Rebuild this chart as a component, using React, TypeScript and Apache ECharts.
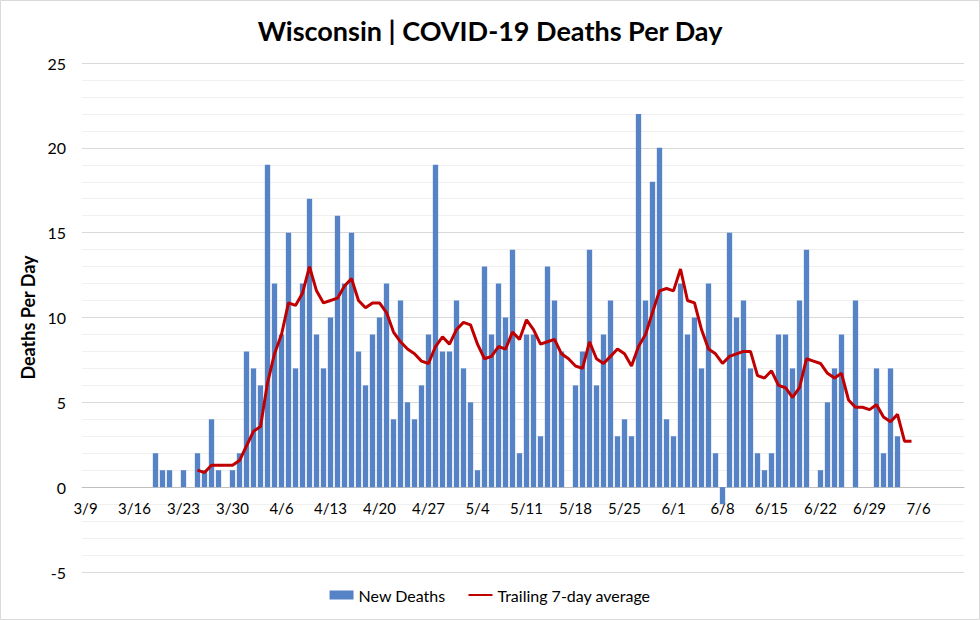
import React, { useEffect, useRef } from "react";
import * as echarts from "echarts";

// Calendar span of the date axis: [month, firstDay, lastDay]
const MONTH_SPANS: [number, number, number][] = [
  [3, 9, 31],
  [4, 1, 30],
  [5, 1, 31],
  [6, 1, 30],
  [7, 1, 12],
];

const CATEGORIES: string[] = [];
MONTH_SPANS.forEach(([m, a, b]) => {
  for (let d = a; d <= b; d++) CATEGORIES.push(`${m}/${d}`);
});

// New deaths per day, starting 3/19 (first reported day) through 7/3
const DEATHS_START = "3/19";
const NEW_DEATHS = [
  2, 1, 1, 0, 1, 0, 2, 1, 4, 1, 0, 1, 2, // 3/19 - 3/31
  8, 7, 6, 19, 12, 9, 15, 7, 12, 17, 9, 7, 10, 16, 12, 15, 8, 6, 9, 10, 12, 4, 11, 5, 4, 6, 9, 19, 8, 8, // April
  11, 7, 5, 1, 13, 9, 12, 10, 14, 2, 9, 9, 3, 13, 11, 8, 0, 6, 8, 14, 6, 9, 11, 3, 4, 3, 22, 11, 18, 20, 4, // May
  3, 12, 9, 10, 7, 12, 2, -1, 15, 10, 11, 7, 2, 1, 2, 9, 9, 7, 11, 14, 0, 1, 5, 7, 9, 0, 11, 0, 0, 7, // June
  2, 7, 3, // July 1-3
];

// Trailing 7-day average, starting 3/25 through 7/5
const AVG_START = "3/25";
const TRAILING_AVG = [
  1.0, 0.86, 1.29, 1.29, 1.29, 1.29, 1.57, // 3/25 - 3/31
  2.43, 3.29, 3.57, 6.14, 7.86, 9.0, 10.86, 10.71, 11.43, 13.0, 11.57, 10.86, 11.0, 11.14, 11.86,
  12.29, 11.0, 10.57, 10.86, 10.86, 10.29, 9.14, 8.57, 8.14, 7.86, 7.43, 7.29, 8.29, 8.86, 8.43, // April
  9.29, 9.71, 9.57, 8.43, 7.57, 7.71, 8.29, 8.14, 9.14, 8.71, 9.86, 9.29, 8.43, 8.57, 8.71, 7.86,
  7.57, 7.14, 7.0, 8.57, 7.57, 7.29, 7.71, 8.14, 7.86, 7.14, 8.29, 9.0, 10.29, 11.57, 11.71, // May
  11.57, 12.86, 11.0, 10.86, 9.29, 8.14, 7.86, 7.29, 7.71, 7.86, 8.0, 8.0, 6.57, 6.43, 6.86,
  6.0, 5.86, 5.29, 5.86, 7.57, 7.43, 7.29, 6.71, 6.43, 6.71, 5.14, 4.71, 4.71, 4.57, 4.86, // June
  4.14, 3.86, 4.29, 2.71, 2.71, // July 1-5
];

const Y_TICKS = { min: -5, max: 25, interval: 5 };

function alignTo(start: string, values: number[]): (number | null)[] {
  const offset = CATEGORIES.indexOf(start);
  return CATEGORIES.map((_, i) => {
    const k = i - offset;
    return k >= 0 && k < values.length ? values[k] : null;
  });
}

const W = 980;
const H = 620;

export default function App() {
  const ref = useRef<HTMLDivElement>(null);

  useEffect(() => {
    if (!ref.current) return;
    const chart = echarts.init(ref.current, undefined, { renderer: "svg" });
    const font = "Lato, 'Open Sans', sans-serif";
    const gridBox = { left: 82, right: 16, top: 63, bottom: 48 };
    const plotH = H - gridBox.top - gridBox.bottom;
    // lift the category axis from the grid bottom up to the value 0
    const zeroOffset = -plotH * (0 - Y_TICKS.min) / (Y_TICKS.max - Y_TICKS.min);
    const option: any = {
      animation: false,
      backgroundColor: "#ffffff",
      textStyle: { fontFamily: font },
      title: {
        text: "Wisconsin | COVID-19 Deaths Per Day",
        left: "center",
        top: 12,
        textStyle: { fontSize: 27, fontWeight: "bold", color: "#000", fontFamily: font },
      },
      graphic: [
        {
          type: "rect",
          shape: { x: 0.5, y: 0.5, width: W - 1, height: H - 1 },
          style: { fill: "none", stroke: "#d9d9d9", lineWidth: 1 },
          silent: true,
        },
      ],
      grid: [{ ...gridBox }, { ...gridBox }],
      legend: {
        bottom: 12,
        left: "center",
        itemWidth: 24,
        itemHeight: 9,
        itemGap: 22,
        textStyle: { fontSize: 16, color: "#000", fontFamily: font },
        data: [
          { name: "New Deaths", icon: "rect" },
          { name: "Trailing 7-day average", itemStyle: { opacity: 0 } },
        ],
      },
      xAxis: [
        {
          type: "category",
          gridIndex: 0,
          data: CATEGORIES,
          boundaryGap: true,
          position: "bottom",
          offset: zeroOffset,
          axisLine: { onZero: false, lineStyle: { color: "#bfbfbf", width: 1 } },
          axisTick: { interval: 0, length: 4, lineStyle: { color: "#bfbfbf" } },
          axisLabel: { interval: 6, fontSize: 15, color: "#000", margin: 13, fontFamily: font },
          splitLine: { show: false },
        },
        {
          type: "category",
          gridIndex: 1,
          data: CATEGORIES,
          boundaryGap: true,
          position: "bottom",
          offset: zeroOffset,
          axisLine: { show: false, onZero: false },
          axisTick: { interval: 6, length: 8, lineStyle: { color: "#bfbfbf" } },
          axisLabel: { show: false },
          splitLine: { show: false },
        },
      ],
      yAxis: [
        {
          type: "value",
          gridIndex: 0,
          min: Y_TICKS.min,
          max: Y_TICKS.max,
          interval: Y_TICKS.interval,
          name: "Deaths Per Day",
          nameLocation: "middle",
          nameGap: 37,
          nameTextStyle: { fontSize: 18, fontWeight: "bold", color: "#000", fontFamily: font },
          axisLine: { show: false },
          axisTick: { show: false },
          axisLabel: { fontSize: 16, color: "#000", margin: 16, fontFamily: font },
          splitLine: { lineStyle: { color: "#d9d9d9", width: 1 } },
          minorTick: { show: false, splitNumber: 5 },
          minorSplitLine: { show: true, lineStyle: { color: "#f0f0f0", width: 1 } },
        },
        {
          type: "value",
          gridIndex: 1,
          min: Y_TICKS.min,
          max: Y_TICKS.max,
          interval: Y_TICKS.interval,
          show: false,
          splitLine: { show: false },
        },
      ],
      series: [
        {
          name: "New Deaths",
          type: "bar",
          xAxisIndex: 0,
          yAxisIndex: 0,
          data: alignTo(DEATHS_START, NEW_DEATHS),
          barCategoryGap: "24%",
          itemStyle: { color: "#5683c6" },
          z: 2,
        },
        {
          name: "Trailing 7-day average",
          type: "line",
          xAxisIndex: 0,
          yAxisIndex: 0,
          data: alignTo(AVG_START, TRAILING_AVG),
          showSymbol: false,
          symbol: "none",
          lineStyle: { color: "#c00000", width: 3 },
          itemStyle: { color: "#c00000" },
          z: 3,
        },
      ],
    };
    chart.setOption(option);
    return () => chart.dispose();
  }, []);

  return (
    <div
      ref={ref}
      style={{ position: "absolute", left: 0, top: 0, width: W, height: H }}
    />
  );
}
